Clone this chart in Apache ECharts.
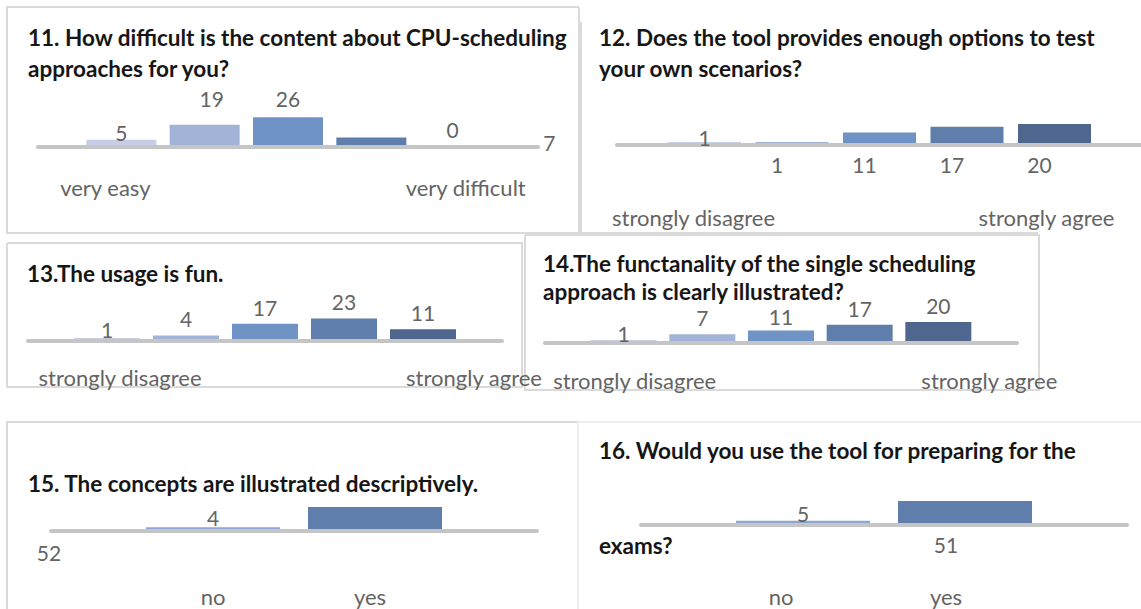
<!DOCTYPE html>
<html><head><meta charset="utf-8">
<script src="https://cdn.jsdelivr.net/npm/echarts@6/dist/echarts.min.js"></script>
<style>html,body{margin:0;padding:0;background:#fff}#c{width:1141px;height:609px}</style>
</head><body><div id="c"></div>
<script>
// ---- data ----
const q11Title = ['11. How difficult is the content about CPU-scheduling', 'approaches for you?'];
const q11Categories = ['very easy', '', '', '', 'very difficult'];
const q11Values = [5, 19, 26, 7, 0];

const q12Title = ['12. Does the tool provides enough options to test', 'your own scenarios?'];
const q12Categories = ['strongly disagree', '', '', '', 'strongly agree'];
const q12Values = [1, 1, 11, 17, 20];

const q13Title = ['13.The usage is fun.'];
const q13Categories = ['strongly disagree', '', '', '', 'strongly agree'];
const q13Values = [1, 4, 17, 23, 11];

const q14Title = ['14.The functanality of the single scheduling', 'approach is clearly illustrated?'];
const q14Categories = ['strongly disagree', '', '', '', 'strongly agree'];
const q14Values = [1, 7, 11, 17, 20];

const q15Title = ['15. The concepts are illustrated descriptively.'];
const q15Categories = ['no', 'yes'];
const q15Values = [4, 52];

const q16Title = ['16. Would you use the tool for preparing for the', 'exams?'];
const q16Categories = ['no', 'yes'];
const q16Values = [5, 51];

// ---- styles / layout ----
const FONT = 'Lato';
const TXT = '#646464';
const P5 = ['#c6cee6', '#a3b3d7', '#7093c6', '#5f7eab', '#4f668f'];
const P2 = ['#8fa7d4', '#5f7eab'];
const BORDER = '#dadada';

const panels = [
  {cats: q11Categories, vals: q11Values, left: 38, width: 500, bottom: 145, yMax: 56, xMax: 6, barWidth: 70, colors: P5, margin: 29,
   catShift: [-16, 0, 0, 0, 11],
   tweaks: [{offset: [0, 9]}, {offset: [7, -10]}, {offset: [0, -2]}, {offset: [178, 21]}, {offset: [-2, 1]}]},
  {cats: q12Categories, vals: q12Values, left: 617, width: 525, bottom: 143, yMax: 63, xMax: 6, barWidth: 73, colors: P5, margin: 61,
   catShift: [-11, 0, 0, 0, -8],
   tweaks: [{offset: [0, 12]},
            {position: 'bottom', distance: 11, offset: [-15, 0]},
            {position: 'bottom', distance: 11, offset: [-15, 0]},
            {position: 'bottom', distance: 11, offset: [-15, 0]},
            {position: 'bottom', distance: 11, offset: [-15, 0]}]},
  {cats: q13Categories, vals: q13Values, left: 28, width: 474, bottom: 339, yMax: 67, xMax: 6, barWidth: 66, colors: P5, margin: 25,
   catShift: [13, 0, 0, 0, 51],
   tweaks: [{offset: [0, 8]}, null, null, null, null]},
  {cats: q14Categories, vals: q14Values, left: 545, width: 472, bottom: 341, yMax: 63, xMax: 6, barWidth: 66, colors: P5, margin: 26,
   catShift: [11, 0, 0, 0, 51],
   tweaks: [{offset: [0, 10]}, null, {offset: [0, 2]}, null, null]},
  {cats: q15Categories, vals: q15Values, left: 51, width: 486, bottom: 529, yMax: 142, xMax: 3, barWidth: 134, colors: P2, margin: 54,
   catShift: [0, -5],
   tweaks: [{offset: [0, 7]}, {position: 'bottom', distance: 13, offset: [-326, 0]}]},
  {cats: q16Categories, vals: q16Values, left: 641, width: 486, bottom: 523, yMax: 139, xMax: 3, barWidth: 134, colors: P2, margin: 60,
   catShift: [-22, -19],
   tweaks: [{offset: [0, 9]}, {position: 'bottom', distance: 11, offset: [-19, 0]}]}
];

const titleLines = [
  {text: q11Title[0], x: 28, y: 37}, {text: q11Title[1], x: 28, y: 68},
  {text: q12Title[0], x: 599, y: 37}, {text: q12Title[1], x: 599, y: 68},
  {text: q13Title[0], x: 27, y: 273},
  {text: q14Title[0], x: 543, y: 263}, {text: q14Title[1], x: 543, y: 291},
  {text: q15Title[0], x: 28, y: 483},
  {text: q16Title[0], x: 599, y: 450}, {text: q16Title[1], x: 599, y: 545}
];

const grids = [], xAxes = [], yAxes = [], series = [];
panels.forEach((p, i) => {
  const H = 60;
  grids.push({left: p.left, top: p.bottom - H, width: p.width, height: H, containLabel: false, outerBoundsMode: 'none'});
  const rich = {};
  p.cats.forEach((c, k) => {
    const s = p.catShift[k] || 0;
    rich['s' + k] = {padding: s >= 0 ? [0, 0, 0, 2 * s] : [0, -2 * s, 0, 0], fontFamily: FONT, fontSize: 22, color: TXT};
  });
  xAxes.push({
    type: 'value', gridIndex: i, min: 0, max: p.xMax, interval: 1, offset: 2,
    axisLine: {show: true, onZero: false, lineStyle: {color: '#c5c5c5', width: 4}},
    axisTick: {show: false}, splitLine: {show: false},
    axisLabel: {
      show: true, margin: p.margin, showMinLabel: true, showMaxLabel: true, hideOverlap: false,
      fontFamily: FONT, fontSize: 22, color: TXT, rich: rich,
      formatter: function (v) {
        const k = Math.round(v) - 1;
        const c = p.cats[k];
        if (!c) return '';
        return '{s' + k + '|' + c + '}';
      }
    }
  });
  yAxes.push({type: 'value', gridIndex: i, min: 0, max: p.yMax, show: false});
  series.push({
    type: 'bar', xAxisIndex: i, yAxisIndex: i, barWidth: p.barWidth,
    label: {show: true, position: 'top', distance: 6, fontFamily: FONT, fontSize: 21, color: TXT,
            formatter: d => String(d.value[1])},
    data: p.vals.map((v, k) => {
      const item = {value: [k + 1, v], itemStyle: {color: p.colors[k]}};
      if (p.tweaks[k]) item.label = p.tweaks[k];
      return item;
    })
  });
});

const graphic = [];
const line = (pts, c) => graphic.push({type: 'polyline', silent: true, z: -1,
  shape: {points: pts}, style: {stroke: c || BORDER, lineWidth: 2, fill: null}});
line([[579, 7], [7, 7], [7, 233], [579, 233], [579, 7]]);
line([[581, 22], [581, 233], [1038, 233]]);
line([[7, 243], [522, 243], [522, 387], [7, 387], [7, 243]]);
line([[525, 235], [1039, 235], [1039, 390], [525, 390], [525, 235]]);
line([[7, 609], [7, 422], [580, 422]]);
line([[578, 609], [578, 422], [1141, 422]], '#ececec');
titleLines.forEach(t => graphic.push({type: 'text', silent: true, x: t.x, y: t.y,
  style: {text: t.text, fontFamily: FONT, fontWeight: 'bold', fontSize: 22.5, fill: '#161616', verticalAlign: 'middle', align: 'left'}}));

const chart = echarts.init(document.getElementById('c'), null, {renderer: 'svg'});
chart.setOption({
  backgroundColor: '#ffffff',
  animation: false,
  grid: grids, xAxis: xAxes, yAxis: yAxes, series: series, graphic: graphic
});
</script></body></html>
